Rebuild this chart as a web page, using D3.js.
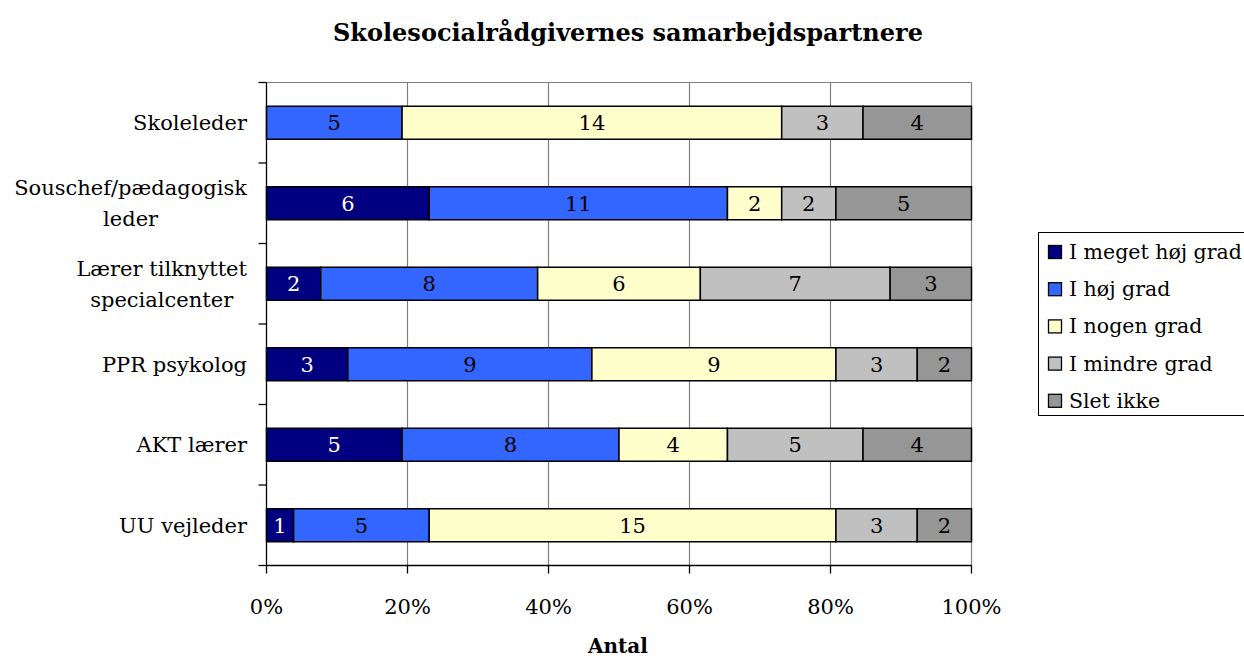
<!DOCTYPE html>
<html><head><meta charset="utf-8">
<script src="https://cdn.jsdelivr.net/npm/d3@7"></script>
<style>body{margin:0;background:#fff}svg{display:block}</style>
</head><body>
<svg id="c" width="1244" height="659"></svg>
<script>
const categories = ["Skoleleder", "Souschef/pædagogisk leder", "Lærer tilknyttet specialcenter", "PPR psykolog", "AKT lærer", "UU vejleder"];
const categoryLines = [["Skoleleder"], ["Souschef/pædagogisk", "leder"], ["Lærer tilknyttet", "specialcenter"], ["PPR psykolog"], ["AKT lærer"], ["UU vejleder"]];
const seriesNames = ["I meget høj grad", "I høj grad", "I nogen grad", "I mindre grad", "Slet ikke"];
const megetHoj = [0, 6, 2, 3, 5, 1];
const hoj = [5, 11, 8, 9, 8, 5];
const nogen = [14, 2, 6, 9, 4, 15];
const mindre = [3, 2, 7, 3, 5, 3];
const sletIkke = [4, 5, 3, 2, 4, 2];
const colors = ["#000080", "#3366FF", "#FFFFCC", "#C0C0C0", "#969696"];
const labelColors = ["#fff", "#000", "#000", "#000", "#000"];
const xTicks = [0, 0.2, 0.4, 0.6, 0.8, 1.0];
const title = "Skolesocialrådgivernes samarbejdspartnere";
const xTitle = "Antal";

const FONT = "'DejaVu Serif', serif";
const FS = 21;
const svg = d3.select("#c");
const L = 266.5, R = 971.5, T = 82.5, B = 565.5;

const series = [megetHoj, hoj, nogen, mindre, sletIkke];
const rows = categories.map((c, i) => {
  const vals = series.map(s => s[i]);
  const tot = d3.sum(vals);
  let acc = 0;
  return vals.map((v, k) => { const r = {k, v, x0: acc / tot, x1: (acc + v) / tot, cat: c}; acc += v; return r; });
});

const x = d3.scaleLinear().domain([0, 1]).range([L, R]);
const y = d3.scaleBand().domain(categories).range([T, B]).paddingInner(0.59).paddingOuter(0.295);
const yb = d3.scaleBand().domain(categories).range([T, B]);

// gridlines
svg.append("g").selectAll("line").data(xTicks.slice(1)).join("line")
  .attr("x1", d => x(d)).attr("x2", d => x(d)).attr("y1", T).attr("y2", B)
  .attr("stroke", "#808080").attr("stroke-width", 1.2);
svg.append("line").attr("x1", L).attr("x2", R).attr("y1", T).attr("y2", T).attr("stroke", "#808080").attr("stroke-width", 1.2);

// bars
const g = svg.append("g");
rows.forEach(r => {
  r.forEach(d => {
    if (d.v === 0) return;
    g.append("rect").attr("x", x(d.x0)).attr("width", x(d.x1) - x(d.x0))
      .attr("y", y(d.cat)).attr("height", y.bandwidth())
      .attr("fill", colors[d.k]).attr("stroke", "#000").attr("stroke-width", 1.5);
    g.append("text").attr("x", (x(d.x0) + x(d.x1)) / 2).attr("y", y(d.cat) + y.bandwidth() / 2 + 7.5)
      .attr("text-anchor", "middle").attr("font-family", FONT).attr("font-size", FS)
      .attr("fill", labelColors[d.k]).text(d.v);
  });
});

// axes
svg.append("line").attr("x1", L).attr("x2", L).attr("y1", T).attr("y2", B).attr("stroke", "#000").attr("stroke-width", 1.3);
svg.append("line").attr("x1", L).attr("x2", R).attr("y1", B).attr("y2", B).attr("stroke", "#000").attr("stroke-width", 1.3);
const yTickPos = categories.map(c => yb(c)).concat([B]);
svg.append("g").selectAll("line").data(yTickPos).join("line")
  .attr("x1", L - 8).attr("x2", L).attr("y1", d => d).attr("y2", d => d).attr("stroke", "#000").attr("stroke-width", 1.3);
svg.append("g").selectAll("line").data(xTicks).join("line")
  .attr("x1", d => x(d)).attr("x2", d => x(d)).attr("y1", B).attr("y2", B + 8).attr("stroke", "#000").attr("stroke-width", 1.3);
svg.append("g").selectAll("text").data(xTicks).join("text")
  .attr("x", d => x(d)).attr("y", 614).attr("text-anchor", "middle")
  .attr("font-family", FONT).attr("font-size", FS).text(d => d3.format(".0%")(d));

// category labels
categories.forEach((c, i) => {
  const lines = categoryLines[i];
  const cy = yb(c) + yb.bandwidth() / 2;
  const lh = 31;
  const gg = svg.append("g");
  const ts = lines.map((ln, j) => gg.append("text").attr("font-family", FONT).attr("font-size", FS)
    .attr("text-anchor", "middle").attr("y", cy + 7.5 + (j - (lines.length - 1) / 2) * lh).text(ln));
  const w = d3.max(ts, t => t.node().getComputedTextLength());
  ts.forEach(t => t.attr("x", 247 - w / 2));
});

// titles
svg.append("text").attr("x", 628).attr("y", 41).attr("text-anchor", "middle")
  .attr("font-family", FONT).attr("font-weight", "bold").attr("font-size", 24).text(title);
svg.append("text").attr("x", 618).attr("y", 653).attr("text-anchor", "middle")
  .attr("font-family", FONT).attr("font-weight", "bold").attr("font-size", 20).text(xTitle);

// legend
const lg = svg.append("g");
lg.append("rect").attr("x", 1038.5).attr("y", 232.5).attr("width", 210).attr("height", 183)
  .attr("fill", "#fff").attr("stroke", "#000").attr("stroke-width", 1);
seriesNames.forEach((n, i) => {
  const cy = 252 + i * 37.2;
  lg.append("rect").attr("x", 1048.5).attr("y", cy - 6.5).attr("width", 13).attr("height", 13)
    .attr("fill", colors[i]).attr("stroke", "#000").attr("stroke-width", 1.3);
  lg.append("text").attr("x", 1069).attr("y", cy + 7).attr("font-family", FONT).attr("font-size", 20.5).text(n);
});
</script>
</body></html>
